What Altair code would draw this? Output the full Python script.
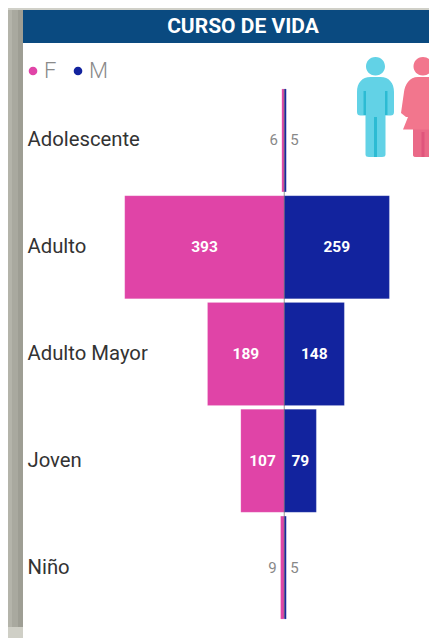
import altair as alt
import pandas as pd

categories = ["Adolescente", "Adulto", "Adulto Mayor", "Joven", "Niño"]
f_values = [6, 393, 189, 107, 9]
m_values = [5, 259, 148, 79, 5]
series = ["F", "M"]
colors = ["#E044A7", "#12239E"]

rows = []
for c, f, m in zip(categories, f_values, m_values):
    rows.append({"cat": c, "sex": "F", "v": f, "s": -f, "mid": -f / 2})
    rows.append({"cat": c, "sex": "M", "v": m, "s": m, "mid": m / 2})
df = pd.DataFrame(rows)

W, H = 421, 630
xs = alt.Scale(domain=[-680.6, 356.6], nice=False, zero=False)
ys = alt.Scale(domain=categories, range=[79, 613], paddingInner=0.036, paddingOuter=0.018)
FONT = "Roboto"


def deco(x, x2, y, y2, color):
    return alt.Chart(pd.DataFrame({"a": [0]})).mark_rect(color=color).encode(
        x=alt.value(x), x2=alt.value(x2), y=alt.value(y), y2=alt.value(y2))


bg = [
    deco(0, 4, 0, H, "#B4B4AA"),
    deco(4, 10, 0, H, "#A9A99F"),
    deco(10, 15, 0, H, "#9E9E94"),
    deco(0, 15, 619, H, "#CFCFC6"),
    deco(0, W, 0, 2, "#D0D0C8"),
    deco(15, W, 2, 35, "#0A4A80"),
]

title = alt.Chart(pd.DataFrame({"t": ["CURSO DE VIDA"]})).mark_text(
    font=FONT, fontSize=21, fontWeight="bold", color="white"
).encode(x=alt.value(235), y=alt.value(19), text="t:N")


def icon(path, color, cx, cy):
    return alt.Chart(pd.DataFrame({"a": [0]})).mark_point(
        shape=path, size=10000, filled=True, opacity=1, color=color, strokeWidth=0
    ).encode(x=alt.value(cx), y=alt.value(cy))


male = ("M0 -1 C.12 -1 .19 -.91 .19 -.81 C.19 -.72 .12 -.63 0 -.63 C-.12 -.63 -.19 -.72 -.19 -.81 C-.19 -.91 -.12 -1 0 -1 Z"
        "M-.1 -.6 L.1 -.6 C.27 -.6 .37 -.48 .37 -.3 L.37 .1 Q.37 .17 .3 .17 L.2 .17 L.2 .95 Q.2 1 .13 1 L-.13 1 Q-.2 1 -.2 .95 L-.2 .17 L-.3 .17 Q-.37 .17 -.37 .1 L-.37 -.3 C-.37 -.48 -.27 -.6 -.1 -.6 Z")
male_dark = ("M-.03 .2 L.03 .2 L.03 1 L-.03 1 Z"
             "M-.24 -.32 L-.19 -.32 L-.19 .16 L-.24 .16 Z"
             "M.19 -.32 L.24 -.32 L.24 .16 L.19 .16 Z")
female = ("M0 -1 C.12 -1 .19 -.91 .19 -.81 C.19 -.72 .12 -.63 0 -.63 C-.12 -.63 -.19 -.72 -.19 -.81 C-.19 -.91 -.12 -1 0 -1 Z"
          "M-.1 -.6 L.1 -.6 C.27 -.6 .36 -.45 .38 -.3 L.44 .1 L.24 .32 L.3 .45 L.2 .45 L.2 .95 Q.2 1 .13 1 L-.13 1 Q-.2 1 -.2 .95 L-.2 .45 L-.4 .45 L-.3 .2 L-.34 .2 L-.44 .12 L-.38 -.3 C-.36 -.45 -.27 -.6 -.1 -.6 Z")
female_dark = "M-.2 .45 L.2 .45 L.2 .95 Q.2 1 .13 1 L-.13 1 Q-.2 1 -.2 .95 Z"
female_stripe = "M-.03 .5 L.03 .5 L.03 1 L-.03 1 Z"

icons = [
    icon(male, "#62D2E6", 367.5, 99),
    icon(male_dark, "#2CBBD3", 367.5, 99),
    icon(female, "#F2768D", 415, 99),
    icon(female_dark, "#EA6A88", 415, 99),
    icon(female_stripe, "#E0557C", 415, 99),
]

y_enc = alt.Y("cat:N", scale=ys, title=None, sort=categories, axis=alt.Axis(
    labelAlign="left", labelPadding=-19, ticks=False, domain=False, grid=False,
    labelFont=FONT, labelFontSize=20.3, labelColor="#333333", labelLimit=200))

bars = alt.Chart(df).mark_bar(stroke="#FFFFFF", strokeOpacity=0.25, strokeWidth=0.5).encode(
    x=alt.X("s:Q", scale=xs, axis=None),
    x2=alt.datum(0),
    y=y_enc,
    color=alt.Color("sex:N", scale=alt.Scale(domain=series, range=colors), legend=alt.Legend(
        orient="none", legendX=14, legendY=52, direction="horizontal", title=None,
        symbolType="circle", symbolSize=75, symbolStrokeWidth=0, labelFont=FONT, labelFontSize=22,
        labelFontWeight=300, labelColor="#8A8A8A", columnPadding=10, labelOffset=0)),
)

center = alt.Chart(pd.DataFrame({"z": [0]})).mark_rule(color="#555555", opacity=0.6, strokeWidth=1).encode(
    x=alt.X("z:Q", scale=xs, axis=None), y=alt.value(81), y2=alt.value(610))

big = alt.Chart(df).transform_filter("datum.v >= 50").mark_text(
    font=FONT, fontSize=15.5, fontWeight="bold", color="white"
).encode(x=alt.X("mid:Q", scale=xs, axis=None), y=alt.Y("cat:N", scale=ys, sort=categories), text="v:Q")

small_f = alt.Chart(df).transform_filter("datum.v < 50 && datum.sex == 'F'").mark_text(
    font=FONT, fontSize=15, color="#888888", align="right", dx=-4
).encode(x=alt.X("s:Q", scale=xs, axis=None), y=alt.Y("cat:N", scale=ys, sort=categories), text="v:Q")

small_m = alt.Chart(df).transform_filter("datum.v < 50 && datum.sex == 'M'").mark_text(
    font=FONT, fontSize=15, color="#888888", align="left", dx=4
).encode(x=alt.X("s:Q", scale=xs, axis=None), y=alt.Y("cat:N", scale=ys, sort=categories), text="v:Q")

chart = alt.layer(*bg, title, *icons, bars, center, big, small_f, small_m).properties(
    width=W, height=H, padding=0, autosize=alt.AutoSizeParams(type="none"),
    background="white",
).configure_view(stroke=None)

chart.save("out.html", embed_options={"renderer": "svg", "actions": False})
